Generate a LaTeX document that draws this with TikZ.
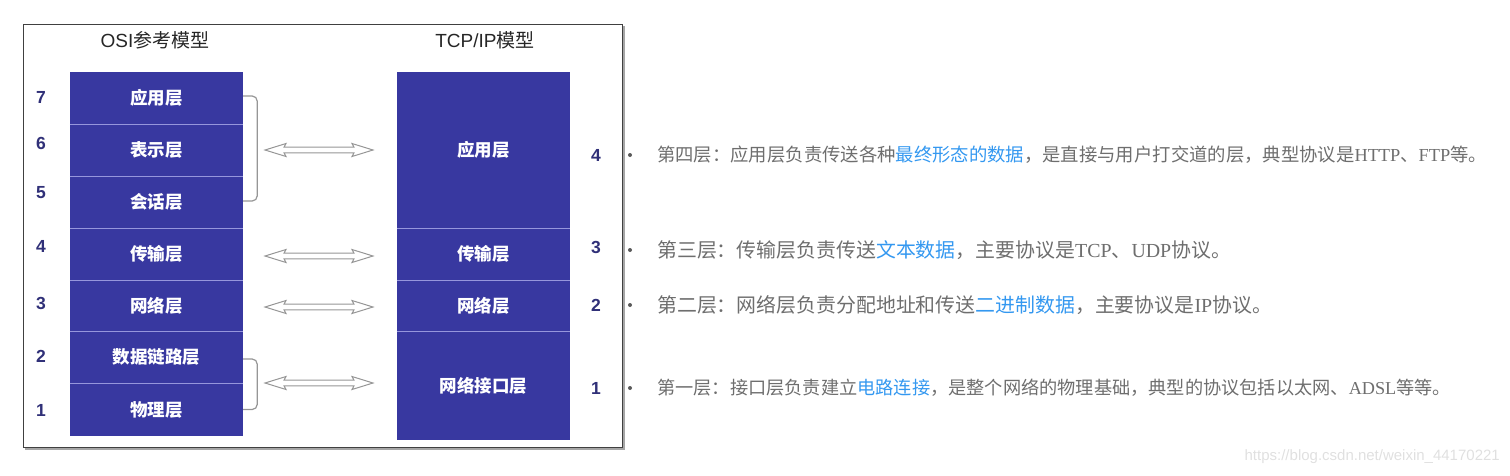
\documentclass[tikz,border=0pt]{standalone}
\usepackage{fontspec}
\setmainfont{Liberation Serif}
\newfontfamily\cjk{Noto Sans CJK SC}
\newfontfamily\arial{Liberation Sans}
\usetikzlibrary{positioning}
\definecolor{boxblue}{RGB}{56,56,160}
\definecolor{sepline}{RGB}{150,150,220}
\definecolor{numblue}{RGB}{48,48,120}
\definecolor{txtgray}{RGB}{110,110,110}
\definecolor{linkblue}{RGB}{52,152,240}
\definecolor{bracegray}{RGB}{150,150,150}
\tikzset{
  layerbox/.style={fill=boxblue, draw=none, minimum width=173pt, inner sep=0pt,
    text=white, font=\cjk\bfseries\fontsize{17.5}{20}\selectfont},
  numlbl/.style={text=numblue, font=\arial\bfseries\fontsize{17.5}{20}\selectfont, inner sep=0pt},
  title/.style={text=black!85, font=\fontsize{19}{22}\selectfont, inner sep=0pt},
  sep/.style={draw=sepline, line width=1.3pt},
  bracket/.style={draw=bracegray, line width=1.2pt, rounded corners=5pt},
  desc/.style={anchor=west, inner sep=0pt, text=txtgray},
  bulletdot/.style={circle, fill=black!65, inner sep=0pt, minimum size=4pt},
  pics/dblarr/.style={code={
    \draw[draw=bracegray, line width=1pt, fill=white]
      (-54,0) -- (-33,-6.5) -- (-35,-2.8) -- (35,-2.8) -- (33,-6.5) -- (54,0)
      -- (33,6.5) -- (35,2.8) -- (-35,2.8) -- (-33,6.5) -- cycle;
  }}
}
\begin{document}
\begin{tikzpicture}[x=1pt,y=-1pt]
\useasboundingbox (0,0) rectangle (1510,475);
% frame
\draw[black!35, line width=1.5pt] (25,449) -- (624,449) -- (624,26);
\node[draw=black!75, line width=1.2pt, minimum width=599pt, minimum height=423pt, inner sep=0pt, anchor=north west] (frame) at (23,24) {};
% titles
\node[title] (t1) at (155,40) {{\arial OSI}{\cjk 参考模型}};
\node[title] (t2) at (485,40) {{\arial TCP/IP}{\cjk 模型}};
% OSI layers
\node[layerbox, minimum height=52pt] (o7) at (156.5,98) {应用层};
\node[layerbox, minimum height=52pt] (o6) at (156.5,150) {表示层};
\node[layerbox, minimum height=52pt] (o5) at (156.5,202) {会话层};
\node[layerbox, minimum height=52pt] (o4) at (156.5,254) {传输层};
\node[layerbox, minimum height=51pt] (o3) at (156.5,305.5) {网络层};
\node[layerbox, minimum height=52pt] (o2) at (156.5,357) {数据链路层};
\node[layerbox, minimum height=53pt] (o1) at (156.5,409.5) {物理层};
\foreach \n in {o7,o6,o5,o4,o3,o2}{\draw[sep] (\n.south west) -- (\n.south east);}
% TCP/IP layers
\node[layerbox, minimum height=156pt] (p4) at (483.5,150) {应用层};
\node[layerbox, minimum height=52pt] (p3) at (483.5,254) {传输层};
\node[layerbox, minimum height=51pt] (p2) at (483.5,305.5) {网络层};
\node[layerbox, minimum height=109pt] (p1) at (483.5,385.5) {网络接口层};
\foreach \n in {p4,p3,p2}{\draw[sep] (\n.south west) -- (\n.south east);}
% left numbers
\node[numlbl] (n7) at (41,97) {7};
\node[numlbl] (n6) at (41,143) {6};
\node[numlbl] (n5) at (41,193) {5};
\node[numlbl] (n4) at (41,246) {4};
\node[numlbl] (n3) at (41,303) {3};
\node[numlbl] (n2) at (41,356) {2};
\node[numlbl] (n1) at (41,410) {1};
% right numbers
\node[numlbl] (m4) at (596,155) {4};
\node[numlbl] (m3) at (596,247) {3};
\node[numlbl] (m2) at (596,305) {2};
\node[numlbl] (m1) at (596,388) {1};
% brackets
\draw[bracket] ([yshift=2pt]o7.east) -- ++(14,0) |- ([yshift=1pt]o5.east);
\draw[bracket] ([yshift=-2pt]o2.east) -- ++(14,0) |- (o1.east);
% double arrows
\coordinate (a4) at (319,150);
\coordinate (a3) at (319,256);
\coordinate (a2) at (319,307);
\coordinate (a1) at (319,383);
\pic at (a4) {dblarr};
\pic at (a3) {dblarr};
\pic at (a2) {dblarr};
\pic at (a1) {dblarr};
% bullets and descriptions
\node[bulletdot] (b4) at (630,155) {};
\node[bulletdot] (b3) at (630,250) {};
\node[bulletdot] (b2) at (630,305) {};
\node[bulletdot] (b1) at (630,388) {};
\node[desc, font=\fontsize{18.35}{22}\selectfont] (d4) at (657,155) {{\cjk 第四层：应用层负责传送各种\textcolor{linkblue}{最终形态的数据}，是直接与用户打交道的层，典型协议是}HTTP{\cjk 、}FTP{\cjk 等。}};
\node[desc, font=\fontsize{19.9}{22}\selectfont] (d3) at (657,250) {{\cjk 第三层：传输层负责传送\textcolor{linkblue}{文本数据}，主要协议是}TCP{\cjk 、}UDP{\cjk 协议。}};
\node[desc, font=\fontsize{19.9}{22}\selectfont] (d2) at (657,305) {{\cjk 第二层：网络层负责分配地址和传送\textcolor{linkblue}{二进制数据}，主要协议是}IP{\cjk 协议。}};
\node[desc, font=\fontsize{18.2}{22}\selectfont] (d1) at (657,388) {{\cjk 第一层：接口层负责建立\textcolor{linkblue}{电路连接}，是整个网络的物理基础，典型的协议包括以太网、}ADSL{\cjk 等等。}};
% watermark
\node[anchor=east, inner sep=0pt, text=black!12, font=\arial\fontsize{15}{18}\selectfont] (wm) at (1500,457) {https://blog.csdn.net/weixin\_44170221};
\end{tikzpicture}
\end{document}
